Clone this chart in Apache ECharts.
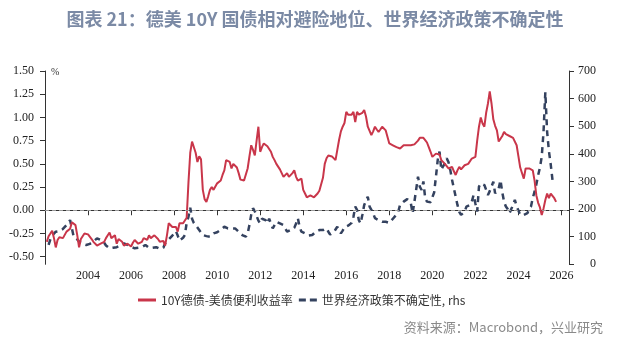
<!DOCTYPE html>
<html><head><meta charset="utf-8">
<script src="https://cdn.jsdelivr.net/npm/echarts@6/dist/echarts.min.js"></script>
<style>html,body{margin:0;padding:0;background:#fff}#c{width:630px;height:338px}</style>
</head><body><div id="c"></div>
<script>
// 10Y 德债-美债便利收益率 (%), monthly from 2002-02
const spreadStart = [2002, 2];
const spread = [
 -0.34,-0.28,-0.25,-0.22,-0.30,-0.40,-0.32,-0.29,-0.27,-0.30,-0.32,
 -0.23,-0.22,-0.20,-0.13,-0.15,-0.16,-0.27,-0.40,-0.31,-0.30,-0.25,-0.23,
 -0.26,-0.28,-0.31,-0.34,-0.35,-0.38,-0.37,-0.36,-0.35,-0.34,-0.30,-0.27,
 -0.24,-0.30,-0.32,-0.27,-0.36,-0.31,-0.33,-0.34,-0.38,-0.40,-0.36,-0.38,
 -0.39,-0.35,-0.32,-0.34,-0.36,-0.35,-0.34,-0.30,-0.31,-0.32,-0.27,-0.30,
 -0.32,-0.27,-0.29,-0.31,-0.34,-0.32,-0.33,-0.38,-0.27,-0.14,-0.13,-0.18,
 -0.16,-0.18,-0.23,-0.14,-0.13,-0.14,-0.12,-0.08,0.30,0.62,0.74,0.72,
 0.62,0.52,0.58,0.55,0.22,0.12,0.09,0.15,0.22,0.25,0.22,0.24,
 0.29,0.30,0.32,0.38,0.43,0.54,0.52,0.52,0.45,0.50,0.52,0.46,
 0.40,0.33,0.32,0.32,0.33,0.45,0.58,0.70,0.65,0.59,0.75,0.90,
 0.63,0.68,0.72,0.70,0.69,0.68,0.63,0.575,0.54,0.50,0.485,0.44,
 0.40,0.36,0.38,0.40,0.36,0.34,0.40,0.43,0.36,0.32,0.33,0.34,
 0.22,0.18,0.14,0.15,0.16,0.15,0.14,0.16,0.18,0.21,0.23,0.35,
 0.50,0.56,0.59,0.58,0.58,0.58,0.54,0.65,0.76,0.85,0.90,0.94,
 1.06,1.03,1.01,1.03,1.06,0.95,1.06,1.03,1.01,1.05,1.08,1.01,
 0.90,0.88,0.81,0.85,0.90,0.87,0.845,0.87,0.90,0.88,0.86,0.84,
 0.72,0.70,0.70,0.68,0.68,0.665,0.665,0.68,0.70,0.70,0.70,0.70,
 0.70,0.72,0.71,0.70,0.75,0.78,0.79,0.78,0.755,0.73,0.68,0.63,
 0.575,0.59,0.61,0.63,0.60,0.54,0.52,0.50,0.48,0.45,0.46,0.467,
 0.42,0.38,0.43,0.467,0.44,0.43,0.485,0.49,0.50,0.52,0.557,0.565,
 0.575,0.75,0.90,1.00,0.935,0.90,1.05,1.15,1.28,1.15,0.98,0.91,
 0.86,0.74,0.77,0.80,0.845,0.82,0.81,0.80,0.79,0.78,0.77,0.70,
 0.58,0.46,0.45,0.34,0.45,0.45,0.45,0.44,0.43,0.32,0.16,0.08,
 0.03,-0.05,0.02,0.11,0.18,0.13,0.18,0.16,0.13,0.09
];
// 世界经济政策不确定性 (rhs), monthly from 2002-03
const epuStart = [2002, 3];
const epu = [
 70,90,104,110,118,115,120,124,128,135,
 142,150,160,130,100,94,90,82,76,74,72,70,
 70,74,78,82,88,94,92,88,86,78,68,62,
 58,58,60,58,62,64,68,74,76,72,70,68,
 64,60,58,58,60,58,62,66,70,64,60,58,
 60,64,62,58,56,52,60,76,82,90,94,104,
 112,120,104,86,88,96,106,150,172,205,165,150,
 142,135,124,115,106,104,102,100,100,106,112,114,
 116,118,125,132,136,134,130,128,130,132,130,124,
 118,112,106,102,100,112,142,180,203,192,185,158,
 148,165,172,160,148,165,172,130,142,154,150,148,
 145,142,130,118,120,124,128,132,148,167,135,118,
 115,112,108,104,100,106,112,118,120,124,126,124,
 128,130,118,108,106,116,126,136,124,112,122,134,
 136,140,142,150,172,209,197,160,148,180,215,230,
 245,209,197,185,167,162,160,158,154,150,154,154,
 150,148,165,172,180,191,215,222,227,233,236,230,
 221,185,227,221,317,281,269,300,240,227,221,225,
 227,260,317,378,408,342,355,366,384,370,342,305,
 275,245,215,190,179,172,190,209,215,215,227,251,
 220,191,281,293,290,287,270,251,265,281,299,257,
 265,275,305,260,227,209,200,185,200,215,233,210,
 195,179,179,179,182,185,200,209,240,263,290,323,
 350,390,480,623,480,410,362,305
];
const leftTicks = [-0.5,-0.25,0,0.25,0.5,0.75,1,1.25,1.5];
const seriesNames = ['10Y德债-美债便利收益率', '世界经济政策不确定性, rhs'];
const titleText = '图表 21：德美 10Y 国债相对避险地位、世界经济政策不确定性';
const sourceText = '资料来源：Macrobond，兴业研究';

function toPairs(start, vals){
  return vals.map((v,i)=>[start[0] + (start[1]-1+i)/12, v]);
}

const chart = echarts.init(document.getElementById('c'), null, {renderer:'canvas'});
const axisColor = '#333';
const serif = 'Liberation Serif';
const redColor = '#c9364a';
const navyColor = '#34425f';
chart.setOption({
  animation:false,
  title:[
    {text:titleText, left:'center', top:5,
     textStyle:{fontFamily:'Noto Sans CJK SC', fontSize:18, fontWeight:'bold', color:'#7b8aa5'}},
    {text:sourceText, right:22, top:316,
     textStyle:{fontFamily:'Noto Sans CJK SC', fontSize:13, fontWeight:'normal', color:'#8a8a8a'}}
  ],
  legend:{
    data:[
      {name:seriesNames[0], icon:'path://M0,0h18v3h-18z'},
      {name:seriesNames[1], icon:'path://M0,0h7v3h-7z M11,0h7v3h-7z'}
    ],
    left:133, top:289, itemWidth:18, itemHeight:3, itemGap:6,
    textStyle:{fontFamily:'Noto Sans CJK SC', fontSize:12, color:'#333'}
  },
  graphic:[{type:'text', left:51, top:67, style:{text:'%', font:'10px Liberation Serif', fill:'#333'}}],
  grid:{left:45, right:61, top:71, bottom:73.7},
  xAxis:{
    type:'value', min:2002, max:2026.35, interval:2,
    axisLine:{lineStyle:{color:axisColor}},
    axisTick:{length:5, lineStyle:{color:axisColor}},
    splitLine:{show:false},
    axisLabel:{margin:6, fontFamily:serif, fontSize:12, color:'#222',
      formatter:v => (Math.abs(v-Math.round(v))<1e-6 && v>2002 && v<=2026) ? String(Math.round(v)) : ''}
  },
  yAxis:[
    {type:'value', min:-0.582, max:1.5, position:'left',
     axisLine:{show:true, lineStyle:{color:axisColor}},
     axisTick:{show:true, length:5, lineStyle:{color:axisColor}, customValues:leftTicks},
     splitLine:{show:false},
     axisLabel:{margin:11, fontFamily:serif, fontSize:12, color:'#222', customValues:leftTicks,
       formatter:v=>v.toFixed(2)}},
    {type:'value', min:0, max:700, interval:100, position:'right',
     axisLine:{show:true, lineStyle:{color:axisColor}},
     axisTick:{show:true, length:5, lineStyle:{color:axisColor}},
     splitLine:{show:false},
     axisLabel:{margin:27, align:'right', fontFamily:serif, fontSize:12, color:'#222'}}
  ],
  series:[
    {name:seriesNames[0], type:'line', yAxisIndex:0, data:toPairs(spreadStart, spread),
     symbol:'none', lineStyle:{color:redColor, width:2}, itemStyle:{color:redColor}, z:3,
     markLine:{silent:true, symbol:'none', label:{show:false},
       lineStyle:{color:'#999', type:[4,3], width:1.2}, data:[{yAxis:0}]}},
    {name:seriesNames[1], type:'line', yAxisIndex:1, data:toPairs(epuStart, epu),
     symbol:'none', lineStyle:{color:navyColor, width:2.5, type:[6,5]}, itemStyle:{color:navyColor}, z:2}
  ]
});
</script></body></html>
